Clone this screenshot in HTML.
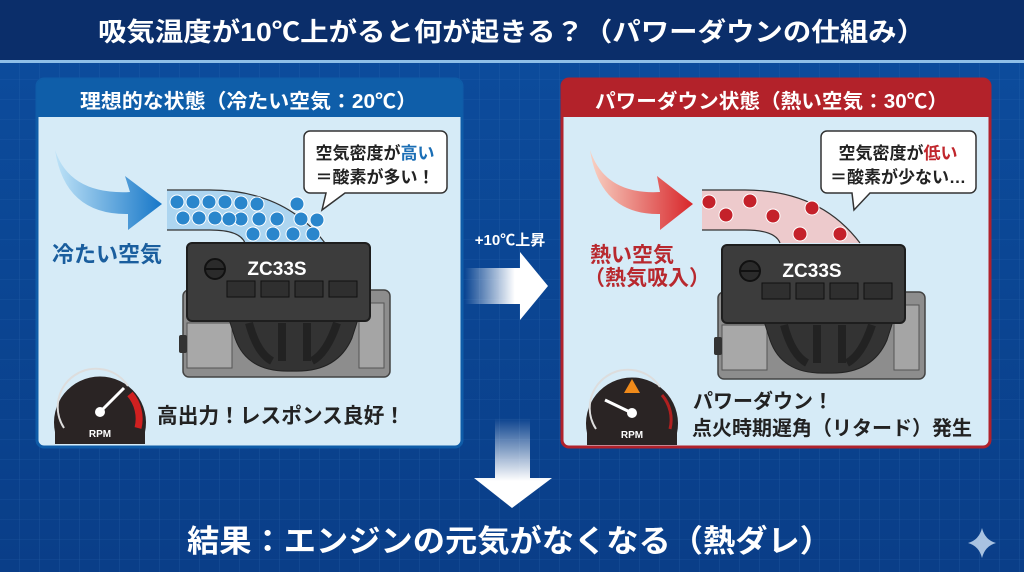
<!DOCTYPE html>
<html><head><meta charset="utf-8"><style>
html,body{margin:0;padding:0;width:1024px;height:572px;overflow:hidden;background:#0b4a9a}
svg{display:block}
text{font-family:"Liberation Sans","Noto Sans CJK JP",sans-serif;font-weight:bold}
</style></head><body>
<svg width="1024" height="572" viewBox="0 0 1024 572" xmlns="http://www.w3.org/2000/svg">
<defs>
<pattern id="grid" width="20" height="20" patternUnits="userSpaceOnUse"><path d="M20 0V20H0" fill="none" stroke="#3b78c0" stroke-width="0.6" opacity="0.5"/></pattern>
<linearGradient id="bg" x1="0" y1="0" x2="0" y2="1"><stop offset="0" stop-color="#0c4d9e"/><stop offset="1" stop-color="#0a3e88"/></linearGradient>
<linearGradient id="ra" x1="0" x2="1"><stop offset="0" stop-color="#fff" stop-opacity="0"/><stop offset="0.6" stop-color="#fff"/></linearGradient>
<linearGradient id="da" x1="0" y1="0" x2="0" y2="1"><stop offset="0" stop-color="#fff" stop-opacity="0"/><stop offset="0.7" stop-color="#fff"/></linearGradient>
<linearGradient id="ba" x1="0" y1="0" x2="1" y2="0"><stop offset="0" stop-color="#bfe3f7"/><stop offset="1" stop-color="#1777c8"/></linearGradient>
<linearGradient id="rda" x1="0" y1="0" x2="1" y2="0"><stop offset="0" stop-color="#f8d2c4"/><stop offset="1" stop-color="#d8262a"/></linearGradient>
<g id="engine">
<rect x="-4" y="47" width="207" height="87" rx="6" fill="#8d8d8d" stroke="#444" stroke-width="1.5"/>
<rect x="172" y="60" width="25" height="65" fill="#a5a5a5" stroke="#555"/>
<rect x="0" y="80" width="45" height="45" fill="#a8a8a8" stroke="#555"/>
<rect x="-8" y="92" width="8" height="18" rx="2" fill="#333"/>
<path d="M40 70 H173 L165 95 Q150 130 105 128 Q60 130 48 95 Z" fill="#333" stroke="#222"/>
<path d="M62 80 Q70 110 85 118 M95 80 V118 M120 80 V118 M150 80 Q140 110 125 118" stroke="#222" stroke-width="8" fill="none"/>
<rect x="0" y="0" width="183" height="78" rx="5" fill="#3c3c3c" stroke="#1e1e1e" stroke-width="2"/>
<circle cx="28" cy="26" r="10" fill="#2b2b2b" stroke="#111" stroke-width="2"/>
<line x1="19" y1="26" x2="37" y2="26" stroke="#111" stroke-width="2"/>
<rect x="40" y="38" width="28" height="16" fill="#2f2f2f" stroke="#111"/>
<rect x="74" y="38" width="28" height="16" fill="#2f2f2f" stroke="#111"/>
<rect x="108" y="38" width="28" height="16" fill="#2f2f2f" stroke="#111"/>
<rect x="142" y="38" width="28" height="16" fill="#2f2f2f" stroke="#111"/>
<text x="90" y="32" font-size="19" fill="#fff" text-anchor="middle">ZC33S</text>
</g>
<g id="gauge">
<path d="M-45 20 A46 46 0 1 1 45 20 L45 32 H-45 Z" fill="#2a2424"/>
<path d="M-36 16 A38 38 0 0 1 28 -26" fill="none" stroke="#ddd" stroke-width="2"/>
</g>
</defs>
<rect width="1024" height="572" fill="url(#bg)"/>
<rect width="1024" height="572" fill="url(#grid)"/>
<rect width="1024" height="60" fill="#0b2e6a"/>
<rect y="60" width="1024" height="3" fill="#8fbfe8"/>
<text x="98" y="41" font-size="26" fill="#fff" textLength="827" lengthAdjust="spacingAndGlyphs">吸気温度が10℃上がると何が起きる？（パワーダウンの仕組み）</text>

<!-- left panel -->
<rect x="37" y="79" width="425" height="368" rx="7" fill="#d6ebf7" stroke="#0f5ca8" stroke-width="3"/>
<path d="M37 86 a7 7 0 0 1 7 -7 H455 a7 7 0 0 1 7 7 V117 H37 Z" fill="#0f5ea9"/>
<text x="80" y="108" font-size="20" fill="#fff" textLength="337" lengthAdjust="spacingAndGlyphs">理想的な状態（冷たい空気：20℃）</text>
<path d="M55 150 Q70 195 130 192 L125 176 L162 204 L128 230 L128 214 Q65 215 55 150 Z" fill="url(#ba)"/>
<text x="52" y="262" font-size="22" fill="#1a5e9e">冷たい空気</text>
<path d="M167 190 H210 Q285 190 325 243 H245 Q240 230 210 230 H167 Z" fill="#a8d3ee" opacity="0.9"/>
<path d="M167 190 H210 Q285 190 325 243 M167 230 H210 Q240 230 245 243" stroke="#333" stroke-width="1.2" fill="none"/>
<g fill="#2a86cc" stroke="#fff" stroke-width="1">
<circle cx="177" cy="202" r="7"/><circle cx="193" cy="202" r="7"/><circle cx="209" cy="202" r="7"/><circle cx="225" cy="202" r="7"/><circle cx="241" cy="203" r="7"/><circle cx="257" cy="204" r="7"/>
<circle cx="183" cy="218" r="7"/><circle cx="199" cy="218" r="7"/><circle cx="215" cy="218" r="7"/><circle cx="241" cy="219" r="7"/><circle cx="259" cy="219" r="7"/><circle cx="277" cy="219" r="7"/><circle cx="301" cy="219" r="7"/><circle cx="229" cy="219" r="7"/>
<circle cx="253" cy="234" r="7"/><circle cx="273" cy="234" r="7"/><circle cx="293" cy="234" r="7"/><circle cx="313" cy="234" r="7"/><circle cx="297" cy="204" r="7"/><circle cx="317" cy="220" r="7"/>
</g>
<path d="M310 131 H441 a6 6 0 0 1 6 6 V187 a6 6 0 0 1 -6 6 H345 L322 210 L326 193 H310 a6 6 0 0 1 -6 -6 V137 a6 6 0 0 1 6 -6 Z" fill="#fff" stroke="#333" stroke-width="1.5"/>
<text x="375" y="159" font-size="17" fill="#222" text-anchor="middle">空気密度が<tspan fill="#1a6eb5">高い</tspan></text>
<text x="375" y="183" font-size="17" fill="#222" text-anchor="middle">＝酸素が多い！</text>
<use href="#engine" x="187" y="243"/>
<use href="#gauge" x="100" y="412"/>
<path d="M130 394 A38 38 0 0 1 138 428" fill="none" stroke="#d02020" stroke-width="7"/>
<line x1="100" y1="412" x2="124" y2="388" stroke="#fff" stroke-width="3"/><circle cx="100" cy="412" r="5" fill="#fff"/>
<text x="100" y="437" font-size="10" fill="#fff" text-anchor="middle">RPM</text>
<text x="157" y="423" font-size="21" fill="#222" textLength="248" lengthAdjust="spacingAndGlyphs">高出力！レスポンス良好！</text>

<!-- right panel -->
<rect x="562" y="79" width="428" height="368" rx="7" fill="#d6ebf7" stroke="#b0222c" stroke-width="3"/>
<path d="M562 86 a7 7 0 0 1 7 -7 H983 a7 7 0 0 1 7 7 V117 H562 Z" fill="#b3222a"/>
<text x="595" y="108" font-size="20" fill="#fff" textLength="353" lengthAdjust="spacingAndGlyphs">パワーダウン状態（熱い空気：30℃）</text>
<path d="M590 150 Q605 195 660 192 L657 176 L693 204 L660 230 L660 214 Q600 215 590 150 Z" fill="url(#rda)"/>
<text x="590" y="262" font-size="21" fill="#b8282e">熱い空気</text>
<text x="584" y="285" font-size="21" fill="#b8282e">（熱気吸入）</text>
<path d="M702 190 H745 Q820 190 860 243 H780 Q775 230 745 230 H702 Z" fill="#f0c6c6" opacity="0.9"/>
<path d="M702 190 H745 Q820 190 860 243 M702 230 H745 Q775 230 780 243" stroke="#333" stroke-width="1.2" fill="none"/>
<g fill="#c4212a" stroke="#fff" stroke-width="1">
<circle cx="709" cy="202" r="7"/><circle cx="750" cy="201" r="7"/><circle cx="726" cy="215" r="7"/><circle cx="773" cy="216" r="7"/><circle cx="812" cy="208" r="7"/><circle cx="800" cy="234" r="7"/><circle cx="840" cy="234" r="7"/>
</g>
<path d="M827 131 H970 a6 6 0 0 1 6 6 V187 a6 6 0 0 1 -6 6 H870 L854 210 L852 193 H827 a6 6 0 0 1 -6 -6 V137 a6 6 0 0 1 6 -6 Z" fill="#fff" stroke="#333" stroke-width="1.5"/>
<text x="898" y="159" font-size="17" fill="#222" text-anchor="middle">空気密度が<tspan fill="#c0262c">低い</tspan></text>
<text x="898" y="183" font-size="17" fill="#222" text-anchor="middle">＝酸素が少ない…</text>
<use href="#engine" x="722" y="245"/>
<use href="#gauge" x="632" y="413"/>
<path d="M662 395 A38 38 0 0 1 670 429" fill="none" stroke="#b02020" stroke-width="3"/>
<path d="M632 379 L640 393 H624 Z" fill="#f08a1a"/>
<line x1="632" y1="413" x2="605" y2="400" stroke="#fff" stroke-width="3"/><circle cx="632" cy="413" r="5" fill="#fff"/>
<text x="632" y="438" font-size="10" fill="#fff" text-anchor="middle">RPM</text>
<text x="693" y="408" font-size="20" fill="#222">パワーダウン！</text>
<text x="692" y="435" font-size="20" fill="#222" textLength="280" lengthAdjust="spacingAndGlyphs">点火時期遅角（リタード）発生</text>

<!-- arrows -->
<text x="510" y="245" font-size="15" fill="#fff" text-anchor="middle">+10℃上昇</text>
<path d="M465 268 H520 V252 L548 286 L520 320 V304 H465 Z" fill="url(#ra)"/>
<path d="M495 418 H530 V478 H552 L512 508 L474 478 H495 Z" fill="url(#da)"/>
<text x="187" y="552" font-size="31" fill="#fff" textLength="645" lengthAdjust="spacingAndGlyphs">結果：エンジンの元気がなくなる（熱ダレ）</text>
<path d="M982 528 Q985 540 996 543 Q985 546 982 558 Q979 546 968 543 Q979 540 982 528 Z" fill="#cfe4f7" opacity="0.8"/>
</svg>
</body></html>
